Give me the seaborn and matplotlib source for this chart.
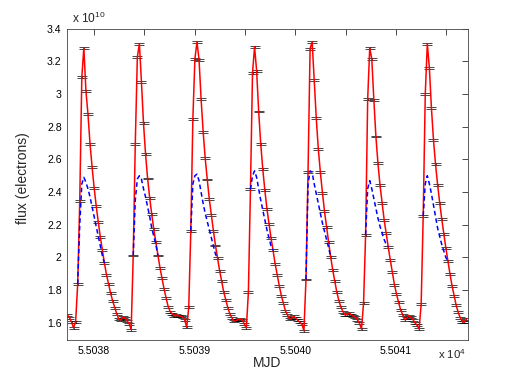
import numpy as np
import matplotlib
matplotlib.use("Agg")
import matplotlib.pyplot as plt
import seaborn as sns

# Kepler long cadence sampling (MJD)
t_start = 55037.735
cadence = 0.020434

# flux in units of 1e10 electrons, cycle by cycle
flux_c0 = [1.648, 1.632, 1.605]
flux_c1 = [1.568, 1.607, 1.838, 2.346, 3.102, 3.282, 3.02, 2.876, 2.694, 2.553,
           2.426, 2.316, 2.217, 2.125, 2.043, 1.965, 1.895, 1.838, 1.781, 1.734,
           1.693, 1.654, 1.623, 1.617, 1.634, 1.628, 1.613, 1.595]
flux_c2 = [1.558, 2.012, 2.696, 3.225, 3.308, 3.073, 2.821, 2.631, 2.483, 2.365,
           2.264, 2.172, 2.094, 2.012, 1.937, 1.873, 1.808, 1.750, 1.699, 1.668,
           1.655, 1.643, 1.648, 1.642, 1.640, 1.635, 1.619]
flux_c3 = [1.572, 1.695, 2.164, 2.848, 3.216, 3.319, 3.21, 2.97, 2.77, 2.606,
           2.477, 2.356, 2.258, 2.162, 2.073, 1.996, 1.920, 1.855, 1.789, 1.740,
           1.693, 1.654, 1.630, 1.609, 1.615, 1.619, 1.623, 1.619, 1.592]
flux_c4 = [1.568, 1.787, 2.416, 3.128, 3.288, 3.143, 2.893, 2.694, 2.540, 2.411,
           2.299, 2.207, 2.119, 2.043, 1.961, 1.894, 1.828, 1.767, 1.721, 1.674,
           1.648, 1.623, 1.627, 1.640, 1.630, 1.615, 1.603, 1.592]
flux_c5 = [1.551, 1.865, 2.524, 3.278, 3.319, 3.087, 2.852, 2.663, 2.520, 2.397,
           2.283, 2.187, 2.094, 2.004, 1.924, 1.855, 1.787, 1.736, 1.695, 1.668,
           1.648, 1.650, 1.660, 1.650, 1.640, 1.635, 1.619, 1.598]
flux_c6 = [1.562, 1.721, 2.139, 2.969, 3.282, 3.214, 2.965, 2.740, 2.575, 2.442,
           2.334, 2.231, 2.147, 2.064, 1.984, 1.910, 1.834, 1.777, 1.726, 1.680,
           1.650, 1.619, 1.627, 1.643, 1.633, 1.620, 1.600, 1.585]
flux_c7 = [1.562, 1.713, 2.254, 3.000, 3.308, 3.159, 2.913, 2.719, 2.569, 2.446,
           2.336, 2.237, 2.145, 2.058, 1.978, 1.900, 1.828, 1.767, 1.709, 1.664,
           1.631, 1.607, 1.603, 1.623]
flux_err = 0.006

# model curve (blue dashed) around each maximum: first sample index + values
model_start = [5, 32, 60, 89, 116, 145, 173]
model_c1 = [1.838, 2.20, 2.45, 2.49, 2.46, 2.42, 2.37, 2.31, 2.25, 2.19, 2.13, 2.07, 2.01, 1.965]
model_c2 = [2.012, 2.35, 2.48, 2.50, 2.48, 2.42, 2.37, 2.31, 2.25, 2.18, 2.13, 2.08, 2.012]
model_c3 = [2.164, 2.45, 2.50, 2.51, 2.47, 2.40, 2.33, 2.27, 2.22, 2.17, 2.12, 2.07, 2.02, 1.996]
model_c4 = [2.416, 2.50, 2.53, 2.49, 2.42, 2.35, 2.29, 2.23, 2.17, 2.12, 2.07, 2.043]
model_c5 = [1.865, 2.45, 2.53, 2.52, 2.45, 2.39, 2.33, 2.27, 2.21, 2.16, 2.11, 2.06, 2.004]
model_c6 = [2.139, 2.42, 2.47, 2.42, 2.36, 2.30, 2.24, 2.19, 2.15, 2.11, 2.08, 2.064]
model_c7 = [2.254, 2.45, 2.50, 2.45, 2.39, 2.32, 2.25, 2.18, 2.13, 2.08, 2.04, 2.00, 1.978]

x_ticks = [55038, 55038.5, 55039, 55039.5, 55040, 55040.5, 55041, 55041.5]
x_ticklabels = ["5.5038", "", "5.5039", "", "5.5040", "", "5.5041", ""]
y_ticks = [1.6, 1.8, 2.0, 2.2, 2.4, 2.6, 2.8, 3.0, 3.2, 3.4]
y_ticklabels = ["1.6", "1.8", "2", "2.2", "2.4", "2.6", "2.8", "3", "3.2", "3.4"]

flux = np.array(flux_c0 + flux_c1 + flux_c2 + flux_c3 + flux_c4 + flux_c5 + flux_c6 + flux_c7)
mjd = t_start + cadence * np.arange(len(flux))

sns.set_style("white")
plt.rcParams["font.family"] = ["Liberation Sans", "DejaVu Sans"]
plt.rcParams["mathtext.fontset"] = "custom"
plt.rcParams["mathtext.rm"] = "Liberation Sans"

fig = plt.figure(figsize=(5.17, 3.82), dpi=100)
ax = fig.add_axes([0.13, 0.11, 0.775, 0.815])

# error bars
ax.errorbar(mjd, flux, yerr=flux_err, fmt="none", ecolor="black",
            elinewidth=0.5, capsize=3.3, capthick=0.5, zorder=2)

# data line
sns.lineplot(x=mjd, y=flux, color="red", linewidth=1.1, estimator=None,
             sort=False, ax=ax, zorder=3)

# model near maxima
for start, vals in zip(model_start, [model_c1, model_c2, model_c3, model_c4,
                                     model_c5, model_c6, model_c7]):
    seg_t = mjd[start:start + len(vals)]
    sns.lineplot(x=seg_t, y=vals, color="blue", linewidth=1.1, estimator=None,
                 sort=False, ax=ax, zorder=4, dashes=False)
    ax.lines[-1].set_dashes((3, 2))

ax.set_xlim(55037.733, 55041.714)
ax.set_ylim(1.495, 3.40)
ax.set_xticks(x_ticks)
ax.set_xticklabels(x_ticklabels)
ax.set_yticks(y_ticks)
ax.set_yticklabels(y_ticklabels)
ax.tick_params(direction="in", top=True, right=True, length=4, width=0.5,
               labelsize=7.6, pad=4, colors="black")
for s in ax.spines.values():
    s.set_linewidth(0.6)
    s.set_color("#444444")

ax.set_xlabel("MJD", fontsize=10)
ax.set_ylabel("flux (electrons)", fontsize=10)
ax.xaxis.set_label_coords(0.5, -0.05)
ax.yaxis.set_label_coords(-0.092, 0.52)

# exponent labels in MATLAB style
ax.text(0.012, 1.018, r"x 10$^{10}$", transform=ax.transAxes, fontsize=8.6,
        ha="left", va="baseline")
ax.text(0.995, -0.062, r"x 10$^{4}$", transform=ax.transAxes, fontsize=8.2,
        ha="right", va="baseline")

fig.savefig("out.png", dpi=100)
